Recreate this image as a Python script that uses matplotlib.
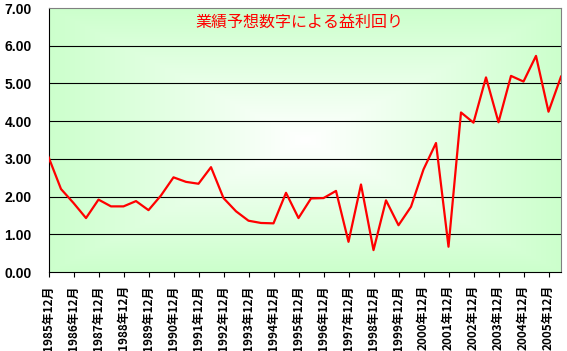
import matplotlib
matplotlib.use("Agg")
import matplotlib.pyplot as plt
import numpy as np

plt.rcParams['font.family'] = ['Noto Sans CJK JP', 'DejaVu Sans']

# 半期ごとのデータ (1985年12月 ~ 2006年6月)
periods = []
for y in range(1985, 2007):
    periods.append(f"{y}年12月")
    periods.append(f"{y + 1}年6月")
periods = periods[:42]

values = [3.05, 2.20, 1.83, 1.43, 1.92, 1.74, 1.74, 1.88, 1.64, 2.03,
          2.51, 2.39, 2.34, 2.78, 1.96, 1.61, 1.36, 1.30, 1.29, 2.10,
          1.43, 1.95, 1.96, 2.15, 0.80, 2.32, 0.58, 1.90, 1.24, 1.73,
          2.72, 3.42, 0.67, 4.23, 3.96, 5.16, 3.97, 5.20, 5.05, 5.73,
          4.25, 5.18]

yticks = [0, 1, 2, 3, 4, 5, 6, 7]
title = "業績予想数字による益利回り"

fig = plt.figure(figsize=(5.67, 3.51), dpi=100)
ax = fig.add_axes([48.5 / 567, 79 / 351, 512.5 / 567, 264 / 351])

x = np.arange(len(values))

# 背景のグラデーション (中心から)
u = np.linspace(-1, 1, 400)
U, V = np.meshgrid(u, u)
t = np.maximum(np.abs(U), np.abs(V))
edge = np.array([204, 255, 204]) / 255
center = np.array([1.0, 1.0, 1.0])
img = center[None, None, :] * (1 - t[..., None]) + edge[None, None, :] * t[..., None]
ax.imshow(img, extent=(0, len(values) - 1, 0, 7), aspect='auto', zorder=0)

for g in yticks[1:-1]:
    ax.axhline(g, color='black', linewidth=0.8, zorder=1)

ax.plot(x, values, color='#ff0000', linewidth=1.6, zorder=3)

ax.set_xlim(0, len(values) - 1)
ax.set_ylim(0, 7)

ax.set_yticks(yticks)
ax.set_yticklabels([f"{v:.2f}" for v in yticks], family='Liberation Sans',
                   fontweight='bold', fontsize=10)
ax.tick_params(axis='y', length=0, pad=12)

ax.set_xticks(x[::2])
ax.set_xticklabels(periods[::2], rotation=90, fontsize=8.5, fontweight='bold')
ax.tick_params(axis='x', length=3.5, width=0.8, pad=6, direction='out')

for side in ['top', 'right']:
    ax.spines[side].set_color('#808080')
for side in ['left', 'bottom']:
    ax.spines[side].set_color('black')

ax.text(0.49, 0.945, title, transform=ax.transAxes, color='#ff0000',
        fontsize=11.5, ha='center', va='center', zorder=4)

fig.savefig("out.png", dpi=100)
